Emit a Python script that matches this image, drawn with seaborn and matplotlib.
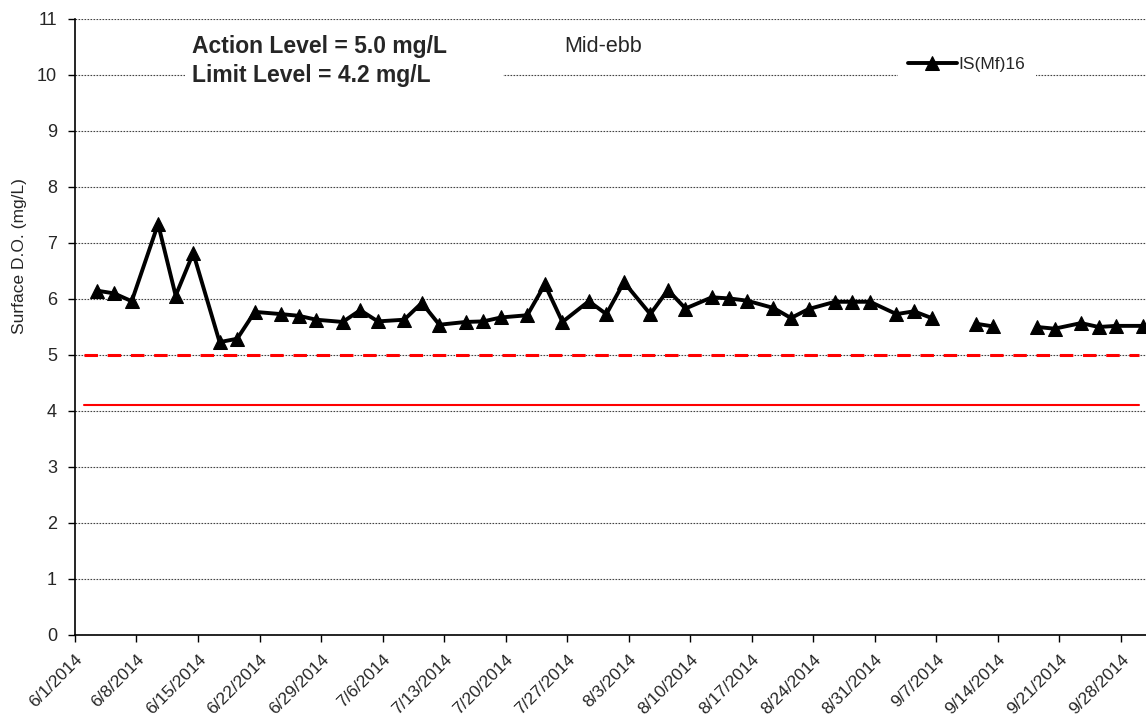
import numpy as np
import pandas as pd
import matplotlib
matplotlib.use("Agg")
import matplotlib.pyplot as plt
from matplotlib.patches import Rectangle
import seaborn as sns

# Data (Surface D.O., mid-ebb, station IS(Mf)16)
dates = [
    "2014-06-03", "2014-06-05", "2014-06-07", "2014-06-10", "2014-06-12",
    "2014-06-14", "2014-06-17", "2014-06-19", "2014-06-21", "2014-06-24",
    "2014-06-26", "2014-06-28", "2014-07-01", "2014-07-03", "2014-07-05",
    "2014-07-08", "2014-07-10", "2014-07-12", "2014-07-15", "2014-07-17",
    "2014-07-19", "2014-07-22", "2014-07-24", "2014-07-26", "2014-07-29",
    "2014-07-31", "2014-08-02", "2014-08-05", "2014-08-07", "2014-08-09",
    "2014-08-12", "2014-08-14", "2014-08-16", "2014-08-19", "2014-08-21",
    "2014-08-23", "2014-08-26", "2014-08-28", "2014-08-30", "2014-09-02",
    "2014-09-04", "2014-09-06", "2014-09-09", "2014-09-11", "2014-09-13",
    "2014-09-16", "2014-09-18", "2014-09-20", "2014-09-23", "2014-09-25",
    "2014-09-27", "2014-09-30",
]
sample_time = "11:00"   # samples sit a bit after midnight of each date
do_values = [
    6.15, 6.10, 5.96, 7.34, 6.06,
    6.82, 5.23, 5.29, 5.77, 5.73,
    5.70, 5.63, 5.59, 5.80, 5.60,
    5.63, 5.93, 5.54, 5.59, 5.60,
    5.67, 5.71, 6.26, 5.59, 5.96,
    5.73, 6.30, 5.73, 6.16, 5.83,
    6.03, 6.01, 5.97, 5.84, 5.66,
    5.82, 5.95, 5.95, 5.95, 5.73,
    5.78, 5.66, np.nan, 5.56, 5.51,
    np.nan, 5.50, 5.47, 5.57, 5.50,
    5.52, 5.52,
]

action_level = 5.0
limit_level = 4.1   # where the solid red line is drawn
level_dates = ["2014-06-02", "2014-09-30"]

df = pd.DataFrame({"date": pd.to_datetime([d + " " + sample_time for d in dates]),
                   "do": do_values})
df["segment"] = df["do"].isna().cumsum()
df = df.dropna()

lines_df = pd.DataFrame({
    "date": pd.to_datetime(level_dates * 2),
    "value": [action_level] * 2 + [limit_level] * 2,
    "kind": ["action"] * 2 + ["limit"] * 2,
})

sns.set_style("white")
plt.rcParams["font.family"] = ["Liberation Sans", "DejaVu Sans"]

fig = plt.figure(figsize=(11.46, 7.22), dpi=100)
ax = fig.add_axes([0.0654, 0.1205, 0.9346, 0.8532])

# dotted horizontal gridlines
for v in range(0, 12):
    ax.axhline(v, color="#444444", lw=0.8, ls=(0, (1.5, 1.2)), zorder=0)

# action / limit lines
sns.lineplot(data=lines_df[lines_df["kind"] == "action"], x="date", y="value",
             color="red", lw=2.2, ax=ax, zorder=2)
ax.lines[-1].set_dashes((4.4, 3.2))
sns.lineplot(data=lines_df[lines_df["kind"] == "limit"], x="date", y="value",
             color="red", lw=1.5, ax=ax, zorder=2)

# the series, broken where data is missing
for i, (seg, part) in enumerate(df.groupby("segment")):
    sns.lineplot(data=part, x="date", y="do", color="black", lw=2.8,
                 marker="^", markersize=10, markeredgecolor="black",
                 ax=ax, zorder=3, label="IS(Mf)16" if i == 0 else None)

start = pd.Timestamp("2014-06-01")
ax.set_xlim(start, start + pd.Timedelta(days=121.85))
ax.set_ylim(0, 11)
ax.set_yticks(range(0, 12))

ticks = pd.date_range("2014-06-01", "2014-09-28", freq="7D")
ax.set_xticks(ticks)
ax.set_xticklabels([f"{d.month}/{d.day}/{d.year}" for d in ticks],
                   rotation=45, ha="right", rotation_mode="anchor", fontsize=12.5)
ax.tick_params(axis="y", labelsize=13, pad=8)
ax.tick_params(axis="x", pad=7)
ax.tick_params(axis="both", direction="out", length=5, width=1, color="black",
               bottom=True, left=True)

for side in ["top", "right"]:
    ax.spines[side].set_visible(False)
for side in ["left", "bottom"]:
    ax.spines[side].set_color("black")
    ax.spines[side].set_linewidth(1.2)

ax.set_xlabel("")
ax.set_ylabel("Surface D.O. (mg/L)", fontsize=12.5)
ax.yaxis.set_label_coords(-0.045, 0.615)

# white text box behind the level notes (hides the gridline like the original)
ax.add_patch(Rectangle((0.1027, 0.893), 0.297, 0.08, transform=ax.transAxes,
                       facecolor="white", edgecolor="none", zorder=1))
ax.text(0.109, 0.932, "Action Level = 5.0 mg/L\nLimit Level = 4.2 mg/L",
        transform=ax.transAxes, fontsize=16.5, fontweight="bold",
        va="center", ha="left", linespacing=1.3, zorder=4)
ax.text(0.457, 0.955, "Mid-ebb", transform=ax.transAxes, fontsize=15.5,
        va="center", ha="left")

leg = ax.legend(loc="upper right", bbox_to_anchor=(0.905, 0.97), fontsize=12.5,
                frameon=True, facecolor="white", edgecolor="none", framealpha=1,
                handlelength=2.8, handletextpad=0.1, borderpad=0.6)
leg.set_zorder(5)

fig.savefig("out.png", dpi=100)
